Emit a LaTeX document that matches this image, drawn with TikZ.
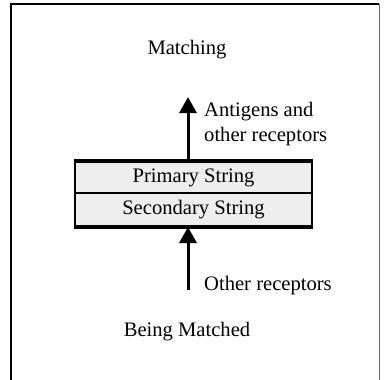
\documentclass[tikz,border=0pt]{standalone}
\usepackage{fontspec}
\setmainfont{Liberation Serif}
\usetikzlibrary{arrows.meta}
\definecolor{boxfill}{HTML}{EEEEEE}
\begin{document}
\begin{tikzpicture}[x=1pt,y=-1pt,
  lbl/.style={inner sep=0pt,font=\fontsize{20.6}{25}\selectfont},
  strbox/.style={draw=black,line width=2pt,fill=boxfill,minimum width=237pt,inner sep=0pt,font=\fontsize{20.6}{25}\selectfont},
  uparrow/.style={line width=3pt,-{Triangle[width=17pt,length=16pt]}}]
\useasboundingbox (0,0) rectangle (384,380);
% frame
\draw[line width=2pt] (11,400) -- (11,4) -- (379,4);
\draw[line width=1pt,black!60] (379,4) -- (379,400);
% boxes
\node[strbox,minimum height=31pt] (prim) at (193.5,177.5) {Primary String};
\node[strbox,minimum height=33pt] (sec) at (193.5,209.5) {Secondary String};
\draw[line width=3.5pt] (prim.north west) -- (prim.north east);
\draw[line width=3.5pt] (sec.south west) -- (sec.south east);
% labels
\node[lbl] (match) at (187,50) {Matching};
\node[lbl] (being) at (187,332) {Being Matched};
\coordinate (uptip) at (188,97);
\coordinate (lowstart) at (188,290);
\node[lbl,anchor=west,align=left] (anti) at (204,124) {Antigens and\\other receptors};
\node[lbl,anchor=west] (other) at (204,286) {Other receptors};
% arrows
\draw[uparrow] (prim.north -| uptip) -- (uptip);
\draw[uparrow] (lowstart) -- (sec.south -| lowstart);
\end{tikzpicture}
\end{document}
